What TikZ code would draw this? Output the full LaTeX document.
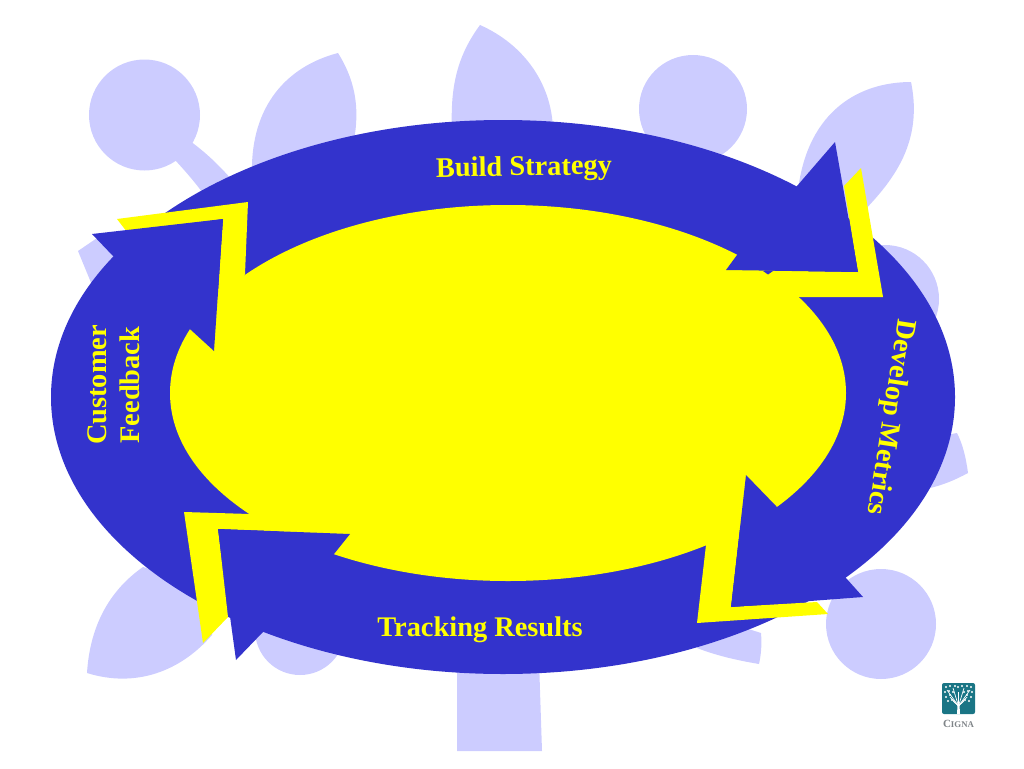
\documentclass[tikz,border=0pt]{standalone}
\usepackage{fontspec}
\setmainfont{Liberation Serif}
\definecolor{ringblue}{HTML}{3333CC}
\definecolor{leafblue}{HTML}{CCCCFF}
\definecolor{bandyellow}{HTML}{FFFF00}
\definecolor{logoteal}{HTML}{1A7585}
\definecolor{logogray}{HTML}{7F8488}
\tikzset{
  leaf/.style={fill=leafblue},
  ring/.style={fill=ringblue},
  band/.style={fill=bandyellow},
  steplabel/.style={text=bandyellow,font=\fontsize{28.4}{33}\selectfont\bfseries,align=center,inner sep=0pt},
}
\begin{document}
\begin{tikzpicture}[x=1pt,y=-1pt]
  \useasboundingbox (0,0) rectangle (1024,768);
  % tree behind the ring
  \fill[leaf] (144.5,115) circle [radius=55.5pt];
  \fill[leaf] (693,109) circle [radius=54pt];
  \fill[leaf] (885,299) circle [radius=54pt];
  \fill[leaf] (881,624) circle [radius=55pt];
  \fill[leaf] (300,630) circle [radius=45pt];
  \fill[leaf] (190,141) .. controls (205,152) and (218,164) .. (232,180) -- (208,200) .. controls (198,186) and (188,174) .. (175,160) --cycle;
  \fill[leaf] (78,251) -- (100,236) -- (125,260) -- (92,285) --cycle;
  \fill[leaf] (338,53) .. controls (288,66) and (250,105) .. (252,175) -- (352,150) .. controls (360,115) and (358,85) .. (338,53) --cycle;
  \fill[leaf] (480,25) .. controls (458,55) and (450,85) .. (452,130) -- (553,130) .. controls (552,85) and (525,45) .. (480,25) --cycle;
  \fill[leaf] (911,82) .. controls (860,82) and (808,110) .. (798,190) -- (850,225) .. controls (885,190) and (925,150) .. (911,82) --cycle;
  \fill[leaf] (957,433) .. controls (963,445) and (966,458) .. (968,473) .. controls (955,480) and (943,485) .. (930,488) -- (920,440) --cycle;
  \fill[leaf] (761,633) .. controls (762,645) and (761,655) .. (759,664) .. controls (735,660) and (715,655) .. (697,648) -- (720,620) --cycle;
  \fill[leaf] (143,567) .. controls (110,590) and (90,625) .. (87,673) .. controls (135,688) and (180,672) .. (212,635) -- (215,590) --cycle;
  \fill[leaf] (457,660) -- (539,660) -- (542,751) -- (457,751) --cycle;
  % ring
  \fill[ring] (503,397) ellipse [x radius=452pt, y radius=277pt];
  \fill[band] (508,393) ellipse [x radius=338pt, y radius=188pt];
  % yellow shadows of the arrows
  \fill[band] (861,168) -- (883,297) -- (798,297) -- (726,270) -- (858,272) -- (844,186) --cycle;
  \fill[band] (706,545) -- (697,623) -- (828,614) -- (817,602) -- (731,607) -- (746,475) --cycle;
  \fill[band] (184,512) -- (250,514) -- (350,534) -- (218,529) -- (228,617) -- (203,643) --cycle;
  \fill[band] (117,219) -- (248,202) -- (245,274) -- (214,351) -- (223,219) -- (127,232) --cycle;
  % arrow heads
  \fill[ring] (835,142) -- (858,272) -- (726,270) -- (737,255) -- (797,186) --cycle;
  \fill[ring] (763,271) -- (773,271) -- (768,274.5) --cycle;
  \fill[ring] (746,475) -- (776,506) -- (846,578) -- (863,597) -- (731,607) --cycle;
  \fill[ring] (218,529) -- (350,534) -- (334,554) -- (263,632) -- (236,660) --cycle;
  \fill[ring] (92,234) -- (223,219) -- (214,351) -- (191,330) -- (113,256) --cycle;
  % labels
  \node[steplabel,rotate=1] (build) at (524,169) {Build Strategy};
  \node[steplabel,rotate=-98.7] (develop) at (890,417) {Develop Metrics};
  \node[steplabel] (tracking) at (480,630) {Tracking Results};
  \node[steplabel,rotate=90] (customer) at (114,385) {Customer\\Feedback};
  % logo
  \fill[logoteal,rounded corners=2pt] (942,683) rectangle (975,714);
  \fill[white] (957,714) -- (957.5,705) -- (959.5,705) -- (960,714) --cycle;
  \draw[white,line width=0.9pt] (958.5,706) -- (958.5,692);
  \foreach \a/\b in {947/690,950/697,953/701,970/690,967/697,964/701,953/688,964/688}
    \draw[white,line width=0.7pt] (958.5,706) -- (\a,\b);
  \foreach \a/\b in {946/687,950/686,955/686,958/687,962/686,967/686,971/687,945/692,949/691,953/692,964/692,968/691,972/692,946/697,950/695,967/695,971/697,948/701,952/700,965/700,969/701}
    \fill[white] (\a,\b) circle [radius=1.1pt];
  \node[text=logogray,font=\fontsize{11}{12}\selectfont\bfseries,inner sep=0pt] (logotext) at (958.5,723.5) {C\fontsize{8.8}{12}\selectfont IGNA};
\end{tikzpicture}
\end{document}
